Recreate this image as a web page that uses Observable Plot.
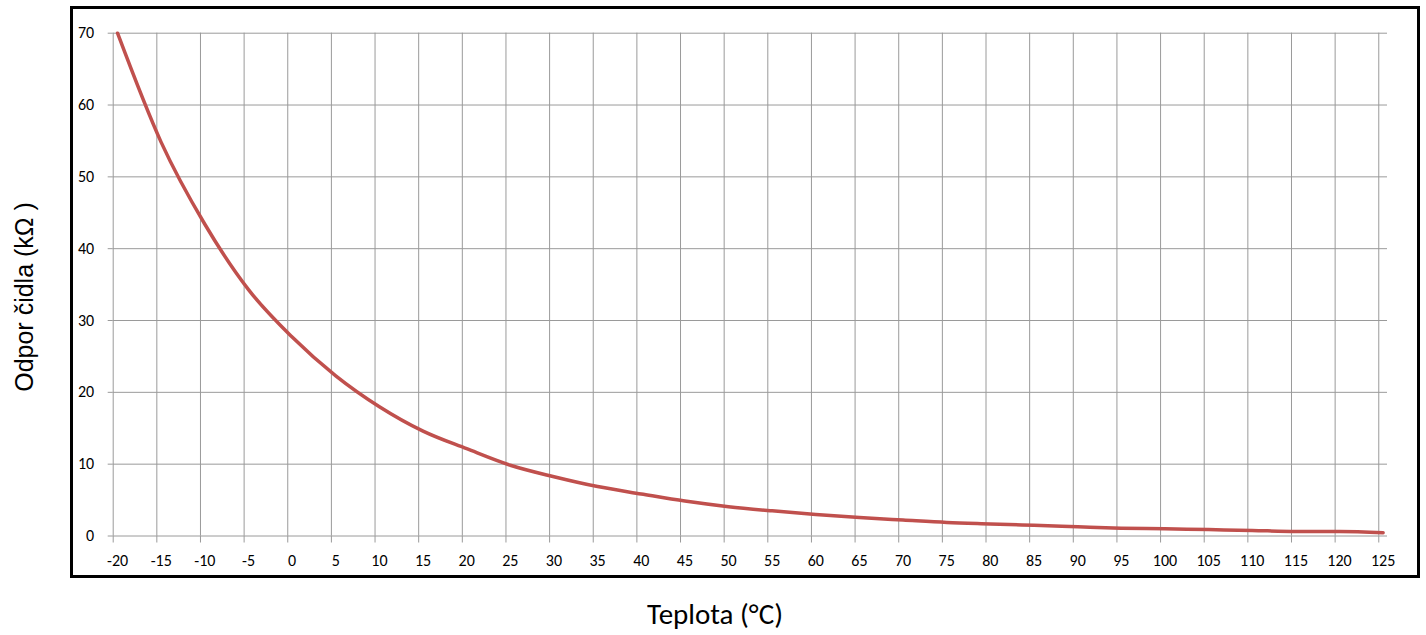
<!DOCTYPE html>
<html><head><meta charset="utf-8">
<script src="https://cdn.jsdelivr.net/npm/d3@7"></script>
<script src="https://cdn.jsdelivr.net/npm/@observablehq/plot@0.6"></script>
<style>
body{margin:0;background:#fff;}
#wrap{position:relative;width:1426px;height:635px;overflow:hidden;}
#box{position:absolute;left:70px;top:6px;width:1344px;height:566px;border:3px solid #000;pointer-events:none;}
#ytitle{position:absolute;left:24px;top:297px;transform:translate(-50%,-50%) rotate(-90deg);white-space:nowrap;font-family:"Liberation Sans",Arial,sans-serif;font-size:25px;color:#000;}
#xtitle{position:absolute;left:715px;top:614px;transform:translate(-50%,-50%);white-space:nowrap;font-family:Carlito,Lato,sans-serif;font-size:29px;color:#000;}
</style></head><body>
<div id="wrap"><div id="chart"></div><div id="box"></div>
<div id="ytitle">Odpor čidla (kΩ )</div><div id="xtitle">Teplota (°C)</div></div>
<script>
const temps = [-20,-15,-10,-5,0,5,10,15,20,25,30,35,40,45,50,55,60,65,70,75,80,85,90,95,100,105,110,115,120,125];
const resist = [70,54.8,43.4,34.3,27.7,22.3,18.0,14.6,12.15,9.85,8.25,6.88,5.85,4.86,4.08,3.5,3.0,2.56,2.22,1.89,1.68,1.48,1.28,1.09,1.01,0.89,0.77,0.64,0.62,0.45];
const xTicks = [-20,-15,-10,-5,0,5,10,15,20,25,30,35,40,45,50,55,60,65,70,75,80,85,90,95,100,105,110,115,120,125];
const yTicks = [0,10,20,30,40,50,60,70];
const data = temps.map((t,i)=>({t, r: resist[i]}));
// Category axis "between tick marks": gridlines/ticks sit on category boundaries (half a category before each label)
const boundaries = xTicks.map(d => d - 0.5);
const chart = Plot.plot({
  width:1426, height:635,
  marginLeft:112.7, marginRight:39, marginTop:32.7, marginBottom:99.5,
  x:{domain:[-20.5,125.5]},
  y:{domain:[0,70]},
  style:{fontFamily:"Carlito, Lato, sans-serif", fontSize:"16px", color:"#000", background:"transparent"},
  marks:[
    Plot.ruleX(boundaries,{stroke:"#9a9a9a", strokeWidth:1, y1:0, y2:70}),
    Plot.ruleY(yTicks,{stroke:"#9a9a9a", strokeWidth:1}),
    Plot.axisX({ticks:boundaries, tickSize:7, stroke:"#9a9a9a", strokeOpacity:1, label:null, tickFormat:()=>""}),
    Plot.axisX({ticks:xTicks, tickSize:0, tickPadding:19, fill:"#000", label:null, tickFormat:d=>String(d), fontSize:16}),
    Plot.axisY({ticks:yTicks, tickSize:5, tickPadding:14, stroke:"#9a9a9a", fill:"#000", strokeOpacity:1, label:null, tickFormat:d=>String(d), fontSize:16}),
    Plot.line(data,{x:"t", y:"r", stroke:"#C0504D", strokeWidth:3.5, curve:"monotone-x"})
  ]
});
document.getElementById("chart").appendChild(chart);
</script>
</body></html>
